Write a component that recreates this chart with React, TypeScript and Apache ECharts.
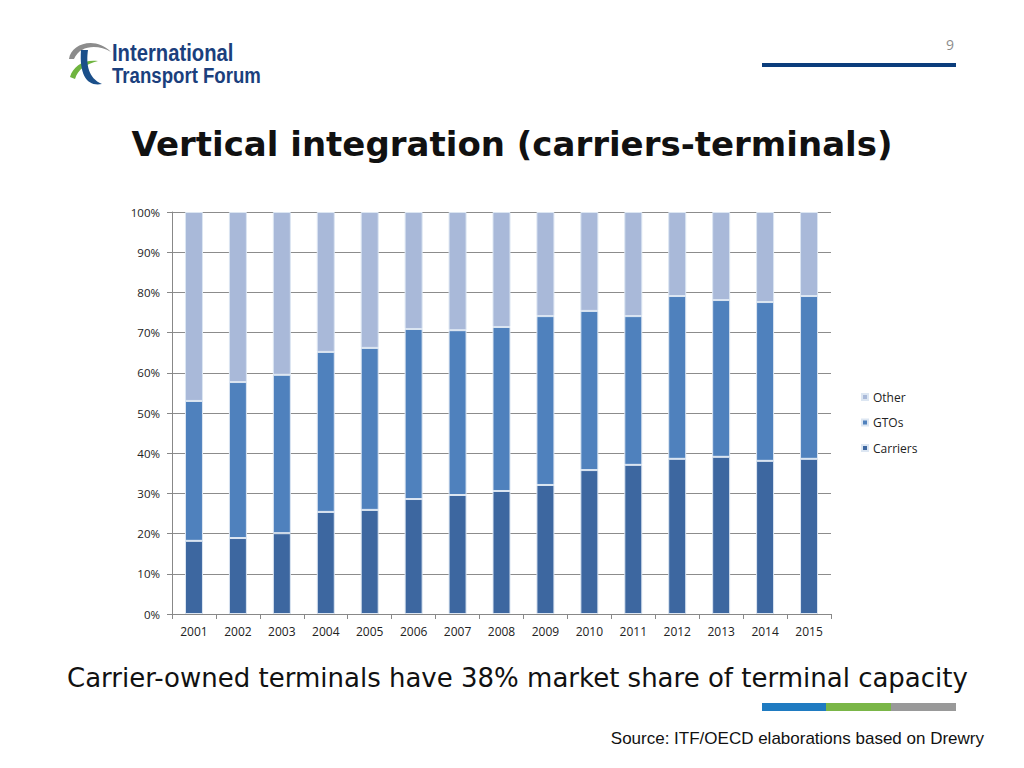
import React, { useEffect, useRef } from "react";
import * as echarts from "echarts";

const years = ["2001","2002","2003","2004","2005","2006","2007","2008","2009","2010","2011","2012","2013","2014","2015"];
const carriers = [18.2, 18.9, 20.1, 25.4, 25.9, 28.6, 29.6, 30.6, 32.1, 35.8, 37.1, 38.6, 39.1, 38.1, 38.6];
const gtos = [34.8, 38.8, 39.4, 39.8, 40.3, 42.3, 41.0, 40.8, 42.0, 39.6, 37.0, 40.5, 39.0, 39.5, 40.5];
const other = carriers.map((c, i) => +(100 - c - gtos[i]).toFixed(1));
const yTicks = [0, 10, 20, 30, 40, 50, 60, 70, 80, 90, 100];

echarts.graphic.registerShape("logoGray", echarts.graphic.extendPath("M69,59 C71,43 96,36 111,52 C98,44 80,45 74,59 Z", {}));
echarts.graphic.registerShape("logoGreen", echarts.graphic.extendPath("M70,77 C73,66 84,59 98,61 C86,64 78,69 75,79 Z", {}));
echarts.graphic.registerShape("logoBlue", echarts.graphic.extendPath("M81,50 L88,50 C86,64 88,78 102,84 C88,87 79,76 81,50 Z", {}));

export default function App() {
  const ref = useRef<HTMLDivElement>(null);
  useEffect(() => {
    const chart = echarts.init(ref.current!, undefined, { renderer: "svg" });
    const barStyle = (color: string) => ({ color, borderColor: "#dce6f2", borderWidth: 1 });
    chart.setOption({
      animation: false,
      backgroundColor: "#ffffff",
      grid: { left: 172, right: 193, top: 212, bottom: 154, containLabel: false },
      legend: {
        data: ["Other", "GTOs", "Carriers"],
        orient: "vertical",
        left: 856,
        top: 385,
        itemWidth: 6,
        itemHeight: 6,
        itemGap: 11.5,
        icon: "rect",
        textStyle: { fontFamily: "Open Sans", fontSize: 12, color: "#222", lineHeight: 14 },
      },
      xAxis: {
        type: "category",
        data: years,
        axisLine: { lineStyle: { color: "#888", width: 1 } },
        axisTick: { show: true, length: 5, lineStyle: { color: "#888" } },
        axisLabel: { fontFamily: "Open Sans", fontSize: 12, color: "#222", margin: 11 },
      },
      yAxis: {
        type: "value",
        min: 0,
        max: 100,
        interval: 10,
        axisLine: { show: true, lineStyle: { color: "#888" } },
        axisTick: { show: true, length: 5, lineStyle: { color: "#888" } },
        axisLabel: { fontFamily: "Open Sans", fontSize: 11.5, color: "#222", margin: 12, formatter: (v: number) => yTicks.includes(v) ? v + "%" : "" },
        splitLine: { lineStyle: { color: "#8c8c8c", width: 1 } },
      },
      series: [
        { name: "Carriers", type: "bar", stack: "s", barWidth: 18, data: carriers, itemStyle: barStyle("#3d67a0") },
        { name: "GTOs", type: "bar", stack: "s", barWidth: 18, data: gtos, itemStyle: barStyle("#4f81bd") },
        { name: "Other", type: "bar", stack: "s", barWidth: 18, data: other, itemStyle: barStyle("#a9b9d9") },
      ],
      graphic: [
        { type: "logoGray", style: { fill: "#8c8c8c" } },
        { type: "logoGreen", style: { fill: "#6fb43f" } },
        { type: "logoBlue", style: { fill: "#1b4f8a" } },
        { type: "text", x: 112, y: 43, scaleX: 0.88, style: { text: "International", font: "bold 23px 'Liberation Sans'", lineHeight: 21, fill: "#1b3f7d" } },
        { type: "text", x: 112, y: 64, scaleX: 0.81, style: { text: "Transport Forum", font: "bold 23px 'Liberation Sans'", lineHeight: 21, fill: "#1b3f7d" } },
        { type: "text", left: 946, top: 37, style: { text: "9", font: "14px 'Open Sans'", fill: "#8c8c8c" } },
        { type: "rect", shape: { x: 762, y: 63, width: 194, height: 4 }, style: { fill: "#0b3d7c" } },
        { type: "text", left: "center", top: 127, style: { text: "Vertical integration (carriers-terminals)", font: "bold 34px 'DejaVu Sans'", fill: "#111" } },
        { type: "text", left: 67, top: 665, style: { text: "Carrier-owned terminals have 38% market share of terminal capacity", font: "26px 'DejaVu Sans'", fill: "#111" } },
        { type: "rect", shape: { x: 762, y: 703, width: 65, height: 8 }, style: { fill: "#1f7bc1" } },
        { type: "rect", shape: { x: 826, y: 703, width: 66, height: 8 }, style: { fill: "#7ab648" } },
        { type: "rect", shape: { x: 891, y: 703, width: 65, height: 8 }, style: { fill: "#999999" } },
        { type: "text", right: 40, top: 730, style: { text: "Source: ITF/OECD elaborations based on Drewry", font: "17px 'Liberation Sans'", fill: "#111" } },
      ],
    });
    return () => chart.dispose();
  }, []);
  return <div ref={ref} style={{ position: "absolute", left: 0, top: 0, width: 1024, height: 768 }} />;
}
